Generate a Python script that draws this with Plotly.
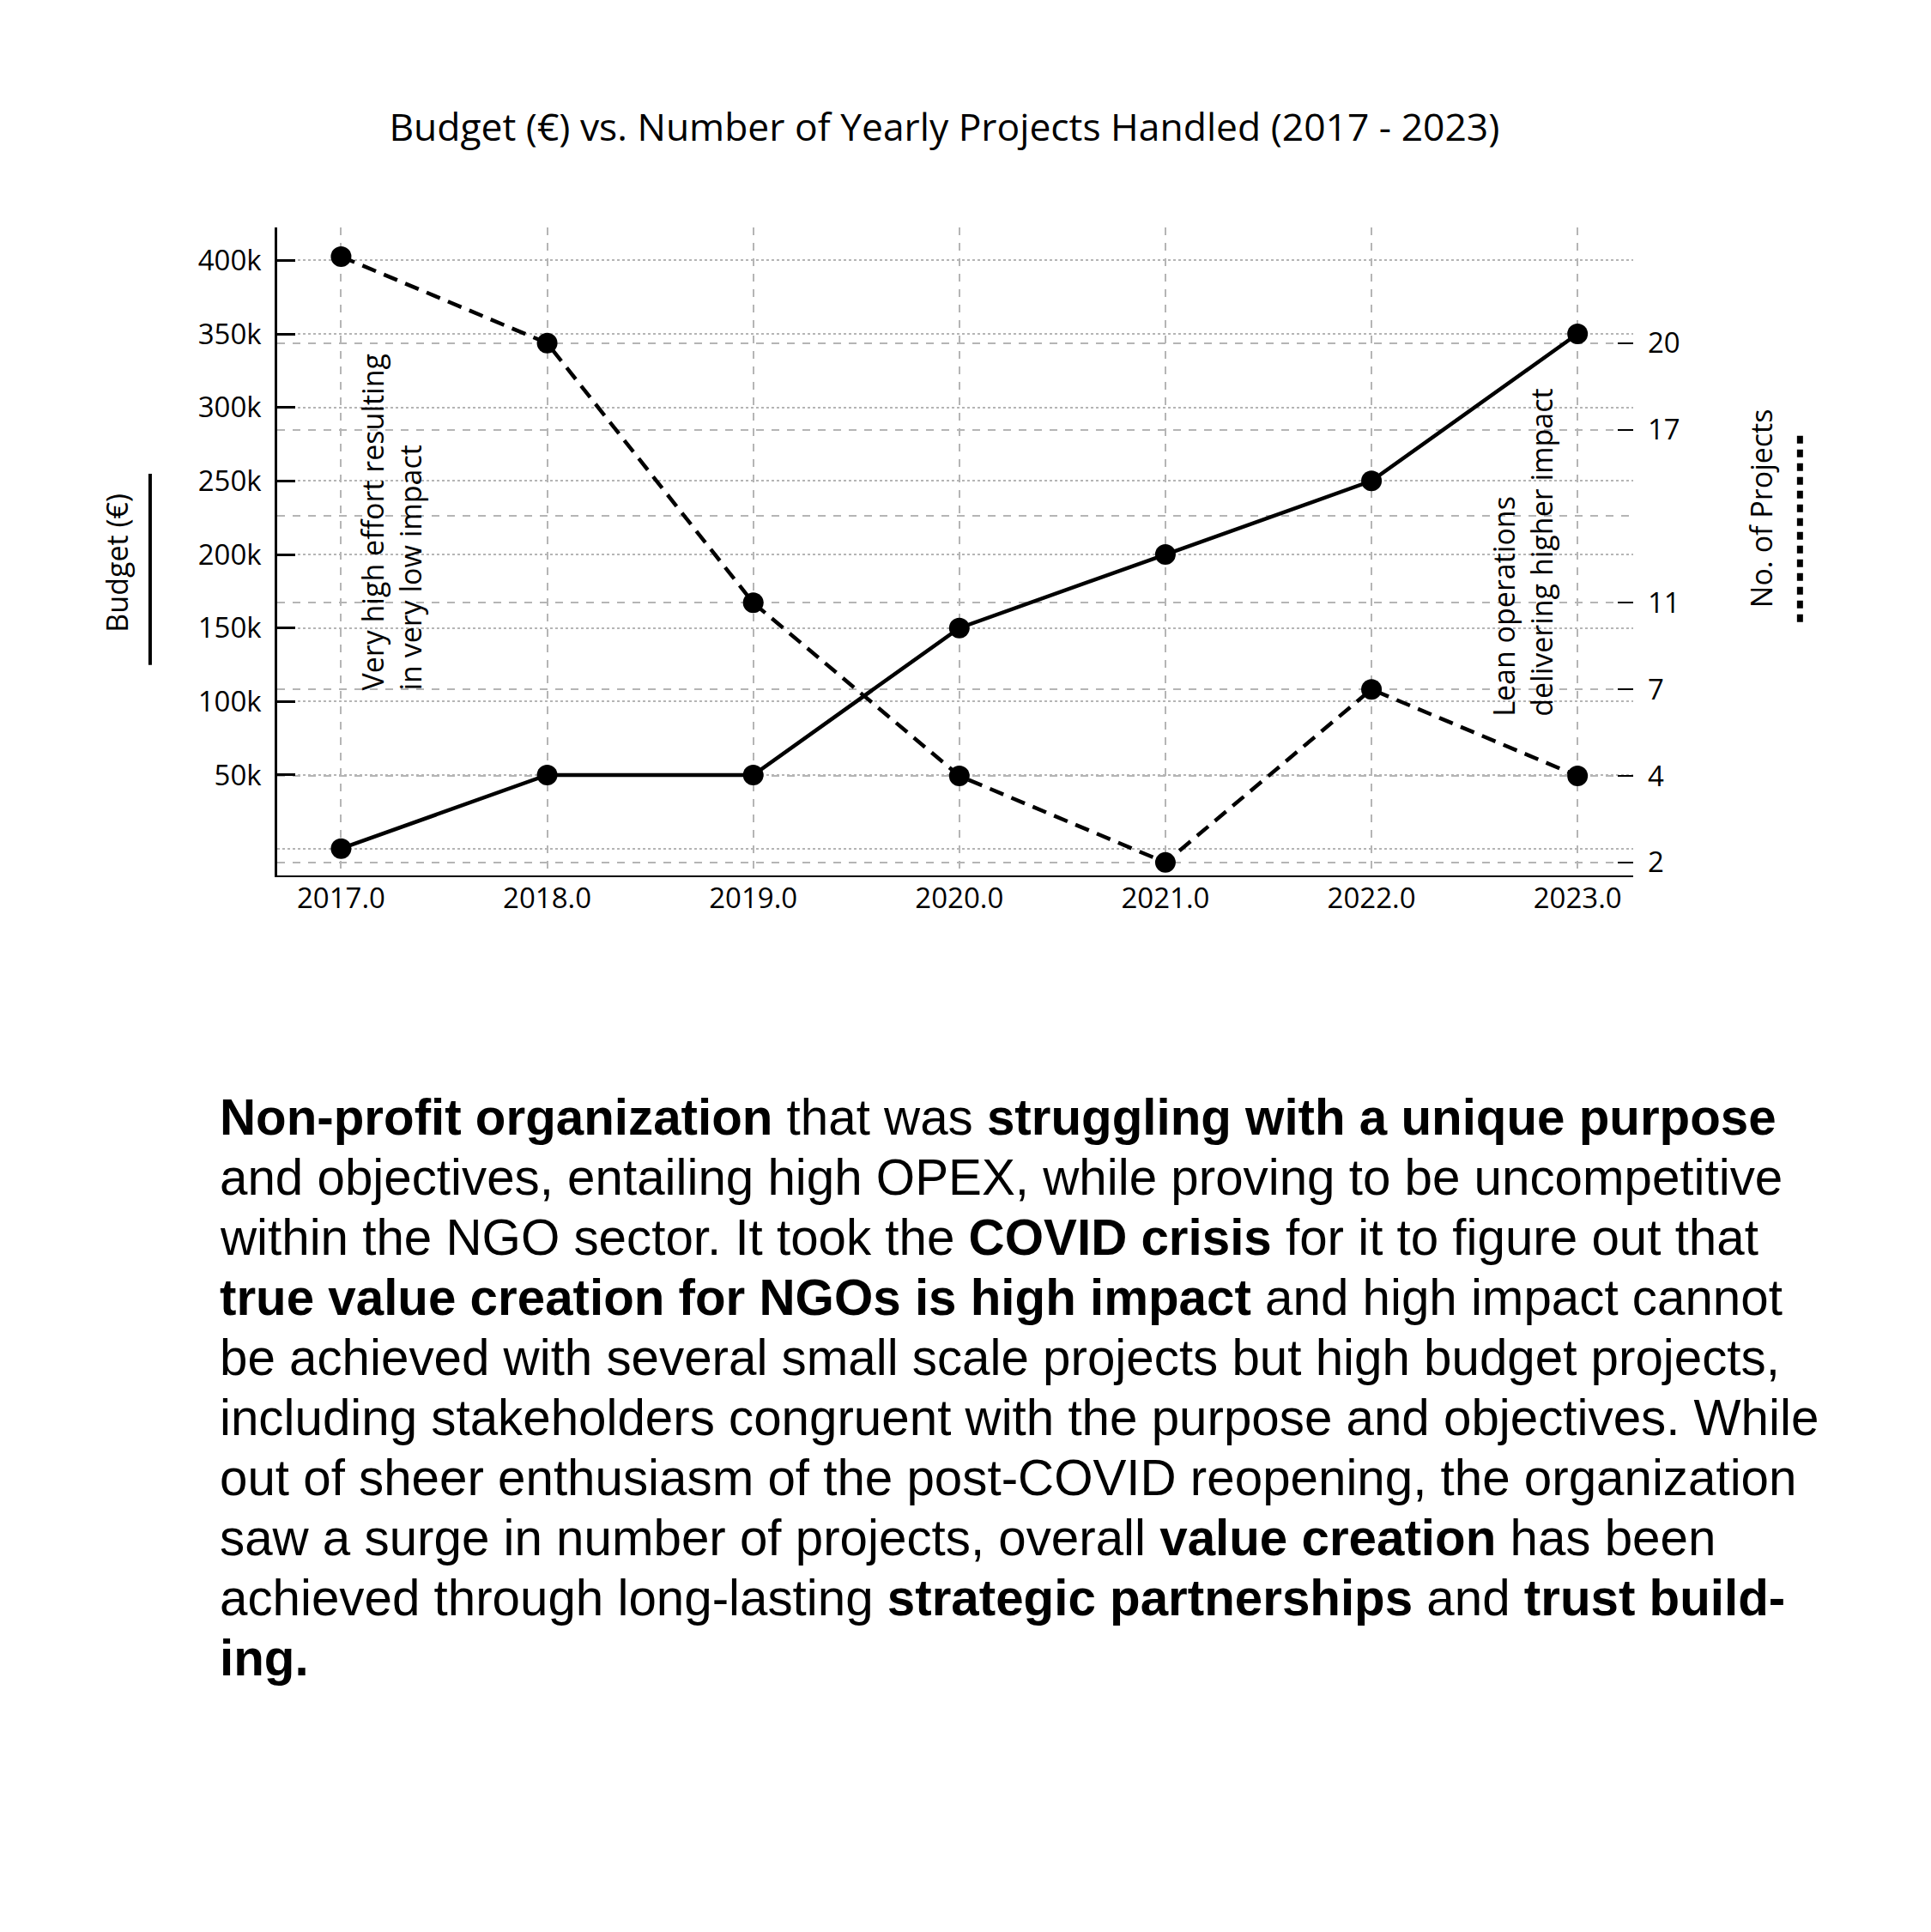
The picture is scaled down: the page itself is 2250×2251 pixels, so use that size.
import plotly.graph_objects as go

# ---- data ----
years = [2017, 2018, 2019, 2020, 2021, 2022, 2023]
budget = [0, 50000, 50000, 150000, 200000, 250000, 350000]
projects = [23, 20, 11, 5, 2, 8, 5]

budget_tickvals = [50000, 100000, 150000, 200000, 250000, 300000, 350000, 400000]
budget_ticktext = ["50k", "100k", "150k", "200k", "250k", "300k", "350k", "400k"]
proj_tickvals = [2, 5, 8, 11, 17, 20]
proj_ticktext = ["2", "4", "7", "11", "17", "20"]

title_text = "Budget (€) vs. Number of Yearly Projects Handled (2017 - 2023)"
note_left = "Very high effort resulting<br>in very low impact"
note_right = "Lean operations<br>delivering higher impact"
paragraph_lines = [
    "<b>Non-profit organization</b> that was <b>struggling with a unique purpose</b>",
    "and objectives, entailing high OPEX, while proving to be uncompetitive",
    "within the NGO sector. It took the <b>COVID crisis</b> for it to figure out that",
    "<b>true value creation for NGOs is high impact</b> and high impact cannot",
    "be achieved with several small scale projects but high budget projects,",
    "including stakeholders congruent with the purpose and objectives. While",
    "out of sheer enthusiasm of the post-COVID reopening, the organization",
    "saw a surge in number of projects, overall <b>value creation</b> has been",
    "achieved through long-lasting <b>strategic partnerships</b> and <b>trust build-</b>",
    "<b>ing.</b>",
]

CF = "Open Sans"
PF = "Liberation Sans"
GRID = "#b5b5b5"

fig = go.Figure()
fig.add_trace(go.Scatter(
    x=years, y=budget, mode="lines+markers", name="Budget (€)",
    line=dict(color="black", width=4.5),
    marker=dict(color="black", size=24), yaxis="y"))
fig.add_trace(go.Scatter(
    x=years, y=projects, mode="lines+markers", name="No. of Projects",
    line=dict(color="black", width=4.5, dash="17px,10px"),
    marker=dict(color="black", size=24), yaxis="y2"))

fig.update_layout(
    width=2250, height=2251,
    margin=dict(l=315, r=355, t=257, b=1239),
    paper_bgcolor="white", plot_bgcolor="white",
    showlegend=False,
    font=dict(family=CF, color="black", size=33),
    title=dict(text=title_text, xref="paper", x=0.492, xanchor="center",
               yref="container", y=1 - 140 / 2251, yanchor="middle",
               font=dict(family=CF, size=44.4, color="black")),
    xaxis=dict(range=[2016.69, 2023.27], tickvals=years, tickformat=".1f",
               showline=True, linecolor="black", linewidth=2,
               ticks="", showgrid=True, gridcolor=GRID, gridwidth=1.5,
               griddash="dash", zeroline=False,
               tickfont=dict(family=CF, size=33), ticklabelstandoff=-4),
    yaxis=dict(range=[-18300, 422400], tickvals=budget_tickvals,
               ticktext=budget_ticktext, showline=True, linecolor="black",
               linewidth=2.5, ticks="inside", ticklen=21, tickwidth=2.5,
               tickcolor="black", showgrid=True, gridcolor=GRID,
               gridwidth=1.5, griddash="dot", zeroline=False,
               tickfont=dict(family=CF, size=33), ticklabelstandoff=9,
               minor=dict(tickvals=[0], showgrid=True, gridcolor=GRID,
                          gridwidth=1.5, griddash="dot", ticks="")),
    yaxis2=dict(range=[1.55, 24.01], overlaying="y", side="right",
                tickvals=proj_tickvals, ticktext=proj_ticktext,
                showline=False, ticks="inside", ticklen=18, tickwidth=2,
                tickcolor="black", showgrid=True, gridcolor=GRID,
                gridwidth=1.5, griddash="dash", zeroline=False,
                tickfont=dict(family=CF, size=33), ticklabelstandoff=16,
                minor=dict(tickvals=[14], showgrid=True, gridcolor=GRID,
                           gridwidth=1.5, griddash="dash", ticks="")),
)

annotations = [
    dict(text=note_left, x=2017.24, y=106000, xref="x", yref="y",
         xanchor="center", yanchor="bottom", textangle=-90, align="left",
         showarrow=False, font=dict(family=CF, size=34, color="black")),
    dict(text=note_right, x=2022.73, y=88800, xref="x", yref="y",
         xanchor="center", yanchor="bottom", textangle=-90, align="left",
         showarrow=False, font=dict(family=CF, size=34, color="black")),
    dict(text="Budget (€)", x=-0.118, y=0.482, xref="paper", yref="paper",
         xanchor="center", yanchor="middle", textangle=-90, showarrow=False,
         font=dict(family=CF, size=34, color="black")),
    dict(text="No. of Projects", x=1.094, y=0.566, xref="paper", yref="paper",
         xanchor="center", yanchor="middle", textangle=-90, showarrow=False,
         font=dict(family=CF, size=34, color="black")),
]
# paragraph, one annotation per line to control the leading
for i, line in enumerate(paragraph_lines):
    annotations.append(dict(
        text=line, x=-0.0435, y=(1020 - (1301.5 + 70 * i)) / 755,
        xref="paper", yref="paper", xanchor="left", yanchor="middle",
        align="left", showarrow=False,
        font=dict(family=PF, size=58.3, color="black")))
fig.update_layout(annotations=annotations)

# legend-like key lines beside the axis titles
fig.add_shape(type="line", xref="paper", yref="paper", x0=-0.0937, x1=-0.0937,
              y0=0.325, y1=0.620, line=dict(color="black", width=4))
fig.add_shape(type="line", xref="paper", yref="paper", x0=1.123, x1=1.123,
              y0=0.391, y1=0.682, line=dict(color="black", width=7, dash="9px,7px"))

fig.write_html("out.html")
